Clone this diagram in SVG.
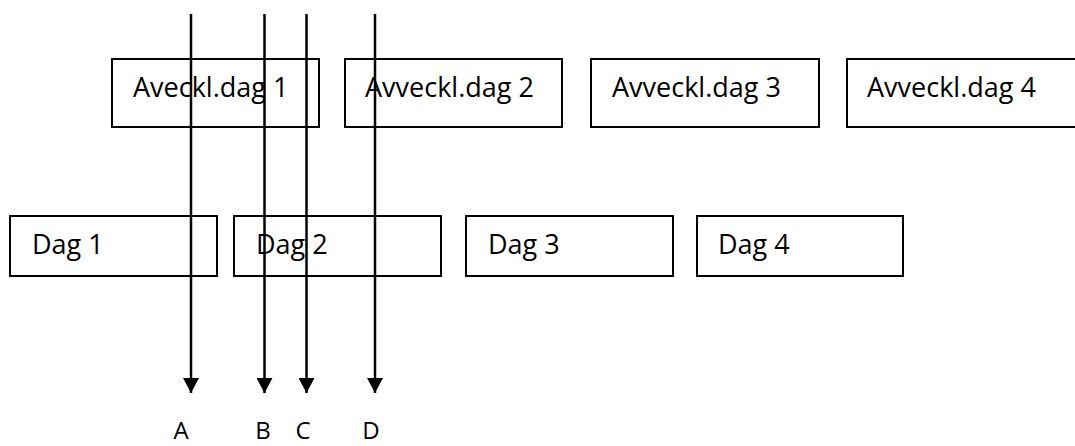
<svg xmlns="http://www.w3.org/2000/svg" width="1075" height="446" viewBox="0 0 1075 446">
<style>
.box{fill:#fff;stroke:#000;stroke-width:2}
.t{font-family:"Open Sans","Noto Sans",sans-serif;font-size:27px;fill:#000}
.c{stroke:#000;stroke-width:2.5;fill:none}
</style>
<defs>
<marker id="ah" markerUnits="userSpaceOnUse" markerWidth="16" markerHeight="16" viewBox="0 0 16 16" refX="15" refY="8" orient="auto">
<path d="M0,0 L15,8 L0,16 Z" fill="#000"/>
</marker>
</defs>
<rect width="1075" height="446" fill="#fff"/>
<g id="n_avd1"><rect class="box" x="112" y="59" width="207" height="68"/><text class="t" x="133" y="97">Aveckl.dag 1</text></g>
<g id="n_avd2"><rect class="box" x="345" y="59" width="217" height="68"/><text class="t" x="365" y="97">Avveckl.dag 2</text></g>
<g id="n_avd3"><rect class="box" x="591" y="59" width="228" height="68"/><text class="t" x="612" y="97">Avveckl.dag 3</text></g>
<g id="n_avd4"><rect class="box" x="847" y="59" width="240" height="68"/><text class="t" x="867" y="97">Avveckl.dag 4</text></g>
<g id="n_dag1"><rect class="box" x="10" y="216" width="207" height="60"/><text class="t" x="32" y="254">Dag 1</text></g>
<g id="n_dag2"><rect class="box" x="234" y="216" width="207" height="60"/><text class="t" x="256" y="254">Dag 2</text></g>
<g id="n_dag3"><rect class="box" x="466" y="216" width="207" height="60"/><text class="t" x="488" y="254">Dag 3</text></g>
<g id="n_dag4"><rect class="box" x="697" y="216" width="206" height="60"/><text class="t" x="718" y="254">Dag 4</text></g>
<g id="connectors">
<line class="c" x1="191" y1="14" x2="191" y2="393" marker-end="url(#ah)"/>
<line class="c" x1="264.5" y1="14" x2="264.5" y2="393" marker-end="url(#ah)"/>
<line class="c" x1="306.5" y1="14" x2="306.5" y2="393" marker-end="url(#ah)"/>
<line class="c" x1="375" y1="14" x2="375" y2="393" marker-end="url(#ah)"/>
</g>
<g id="labels" class="t" text-anchor="middle" style="font-size:24px">
<text x="181" y="439">A</text>
<text x="263" y="439">B</text>
<text x="303" y="439">C</text>
<text x="371" y="439">D</text>
</g>
</svg>
